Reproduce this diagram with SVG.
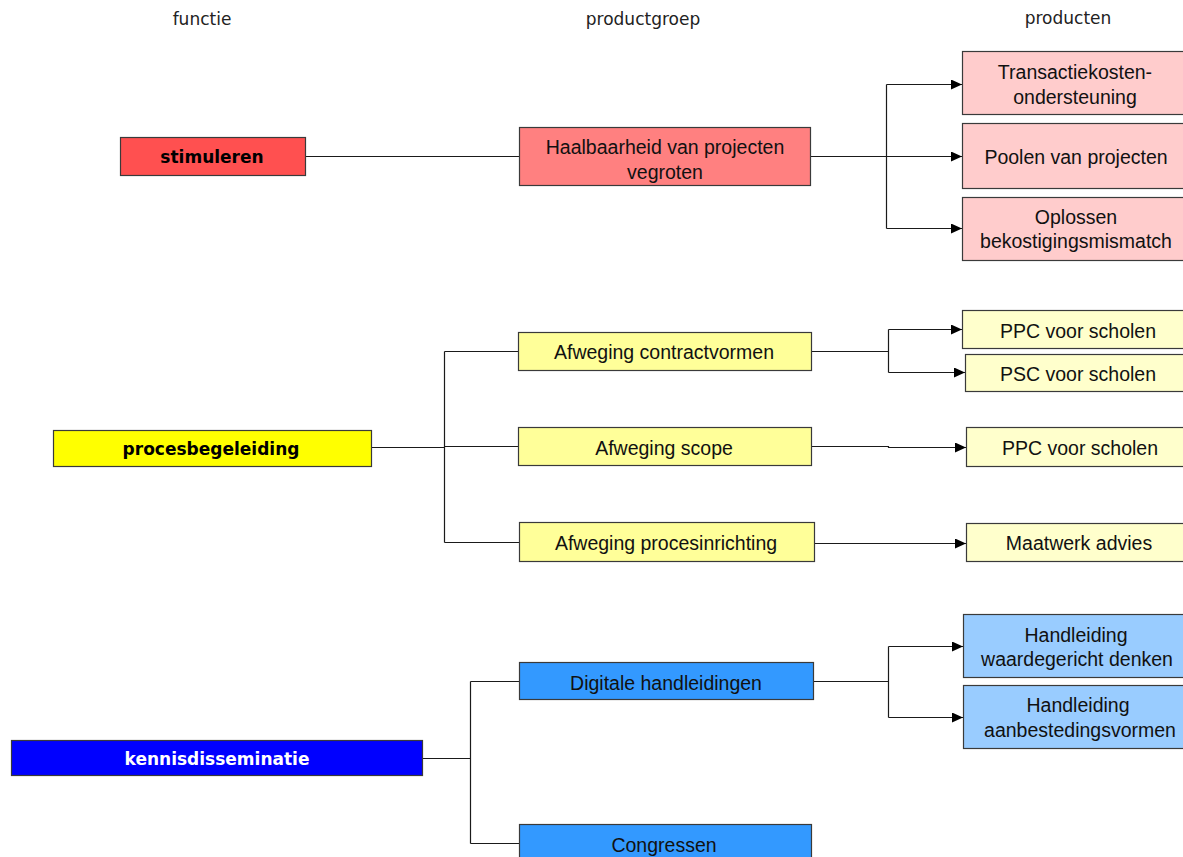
<svg xmlns="http://www.w3.org/2000/svg" width="1183" height="857" viewBox="0 0 1183 857">
<style>
.hdr{font-family:"DejaVu Sans",Verdana,sans-serif;font-size:17px;fill:#222;text-anchor:middle}
.b{stroke:#3a3a3a;stroke-width:1.2}
.t{font-family:"Liberation Sans",Arial,sans-serif;font-size:19.5px;fill:#111;text-anchor:middle}
.f{font-family:"DejaVu Sans",Verdana,sans-serif;font-size:17px;font-weight:bold;text-anchor:middle}
.c{fill:none;stroke:#1a1a1a;stroke-width:1.2}
.a{marker-end:url(#arr)}
</style>
<defs>
<marker id="arr" markerUnits="userSpaceOnUse" markerWidth="11" markerHeight="10" refX="11" refY="5" orient="auto">
<path d="M0,0 L11,5 L0,10 z" fill="#000"/>
</marker>
</defs>
<rect width="1183" height="857" fill="#fff"/>
<g id="headers">
<text class="hdr" x="202" y="25">functie</text>
<text class="hdr" x="643" y="25">productgroep</text>
<text class="hdr" x="1068" y="24">producten</text>
</g>
<g id="connectors">
<path class="c" d="M306,156.5 H519"/>
<path class="c" d="M811,156.5 H886.5"/>
<path class="c" d="M886.5,84.5 V228.5"/>
<path class="c a" d="M886.5,84.5 H962"/>
<path class="c a" d="M886.5,156.5 H962"/>
<path class="c a" d="M886.5,228.5 H962"/>
<path class="c" d="M372,447.5 H444.5 M444.5,351.5 V542.5 M444.5,351.5 H518 M444.5,446.5 H518 M444.5,542.5 H519"/>
<path class="c" d="M812,351.5 H888.5 M888.5,329.5 V372.5"/>
<path class="c a" d="M888.5,329.5 H962"/>
<path class="c a" d="M888.5,372.5 H965"/>
<path class="c a" d="M812,446.5 H888.5 V447.5 H966"/>
<path class="c a" d="M815,543.5 H966"/>
<path class="c" d="M422,758.5 H470.5 M470.5,681.5 V843.5 M470.5,681.5 H519 M470.5,843.5 H519"/>
<path class="c" d="M813,681.5 H888.5 M888.5,646.5 V717.5"/>
<path class="c a" d="M888.5,646.5 H963"/>
<path class="c a" d="M888.5,717.5 H963"/>
</g>
<g id="stimuleren">
<rect class="b" x="120.5" y="137.5" width="185" height="38" fill="#FF5050"/>
<text class="f" x="212" y="163" fill="#000">stimuleren</text>
</g>
<g id="haalbaarheid">
<rect class="b" x="519.5" y="127.5" width="291" height="58" fill="#FF8080"/>
<text class="t" x="665" y="154">Haalbaarheid van projecten</text>
<text class="t" x="665" y="179">vegroten</text>
</g>
<g id="transactiekosten">
<rect class="b" x="962.5" y="51.5" width="230" height="63" fill="#FFCCCC"/>
<text class="t" x="1075" y="79">Transactiekosten-</text>
<text class="t" x="1075" y="104">ondersteuning</text>
</g>
<g id="poolen">
<rect class="b" x="962.5" y="123.5" width="230" height="65" fill="#FFCCCC"/>
<text class="t" x="1076" y="164">Poolen van projecten</text>
</g>
<g id="oplossen">
<rect class="b" x="962.5" y="197.5" width="230" height="63" fill="#FFCCCC"/>
<text class="t" x="1076" y="224">Oplossen</text>
<text class="t" x="1076" y="248">bekostigingsmismatch</text>
</g>
<g id="procesbegeleiding">
<rect class="b" x="53.5" y="430.5" width="318" height="36" fill="#FFFF00"/>
<text class="f" x="211" y="455" fill="#000">procesbegeleiding</text>
</g>
<g id="contractvormen">
<rect class="b" x="518.5" y="332.5" width="293" height="38" fill="#FFFF99"/>
<text class="t" x="664" y="359">Afweging contractvormen</text>
</g>
<g id="scope">
<rect class="b" x="518.5" y="427.5" width="293" height="38" fill="#FFFF99"/>
<text class="t" x="664" y="455">Afweging scope</text>
</g>
<g id="procesinrichting">
<rect class="b" x="519.5" y="522.5" width="295" height="39" fill="#FFFF99"/>
<text class="t" x="666" y="550">Afweging procesinrichting</text>
</g>
<g id="ppc1">
<rect class="b" x="962.5" y="310.5" width="230" height="38" fill="#FFFFCC"/>
<text class="t" x="1078" y="338">PPC voor scholen</text>
</g>
<g id="psc">
<rect class="b" x="965.5" y="354.5" width="230" height="37" fill="#FFFFCC"/>
<text class="t" x="1078" y="381">PSC voor scholen</text>
</g>
<g id="ppc2">
<rect class="b" x="966.5" y="427.5" width="230" height="39" fill="#FFFFCC"/>
<text class="t" x="1080" y="455">PPC voor scholen</text>
</g>
<g id="maatwerk">
<rect class="b" x="966.5" y="523.5" width="230" height="38" fill="#FFFFCC"/>
<text class="t" x="1079" y="550">Maatwerk advies</text>
</g>
<g id="kennisdisseminatie">
<rect class="b" x="11.5" y="740.5" width="411" height="35" fill="#0000FF"/>
<text class="f" x="217" y="765" fill="#fff">kennisdisseminatie</text>
</g>
<g id="digitale">
<rect class="b" x="519.5" y="662.5" width="294" height="37" fill="#3399FF"/>
<text class="t" x="666" y="690">Digitale handleidingen</text>
</g>
<g id="congressen">
<rect class="b" x="519.5" y="824.5" width="292" height="50" fill="#3399FF"/>
<text class="t" x="664" y="852">Congressen</text>
</g>
<g id="handleiding1">
<rect class="b" x="963.5" y="614.5" width="230" height="63" fill="#99CCFF"/>
<text class="t" x="1076" y="642">Handleiding</text>
<text class="t" x="1077" y="666">waardegericht denken</text>
</g>
<g id="handleiding2">
<rect class="b" x="963.5" y="685.5" width="230" height="63" fill="#99CCFF"/>
<text class="t" x="1078" y="712">Handleiding</text>
<text class="t" x="1080" y="737">aanbestedingsvormen</text>
</g>
</svg>
